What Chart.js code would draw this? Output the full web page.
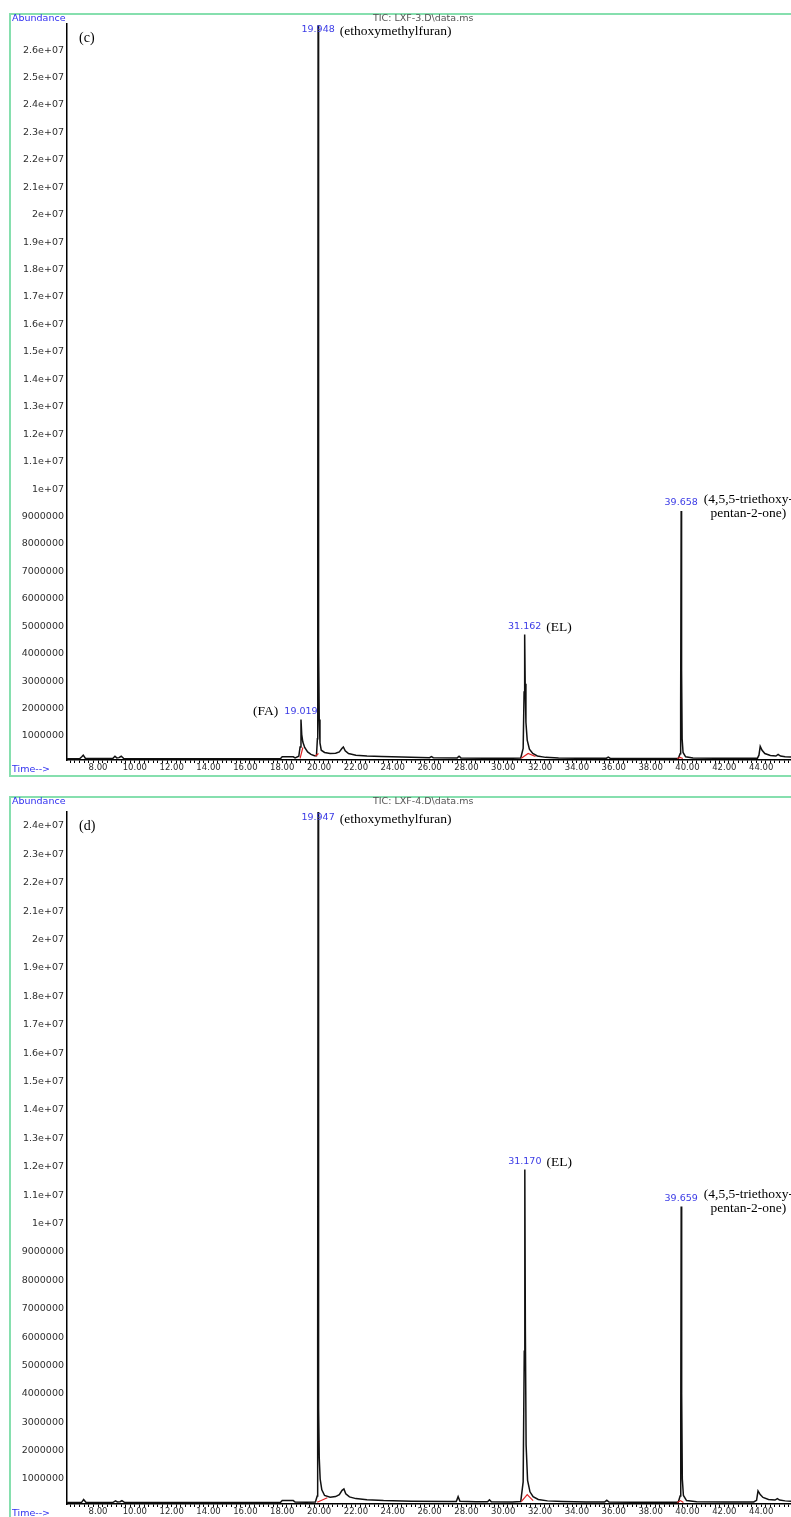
<!DOCTYPE html>
<html>
<head>
<meta charset="utf-8">
<script src="https://cdn.jsdelivr.net/npm/chart.js@4.4.1/dist/chart.umd.min.js"></script>
<style>
  html, body { margin: 0; padding: 0; background: #fff; width: 791px; height: 1517px; overflow: hidden; position: relative; }
  .frame { position: absolute; border: 2px solid #86dfae; box-sizing: border-box; }
  canvas { position: absolute; left: 0; }
</style>
</head>
<body>
<div class="frame" style="left:9px; top:13px; width:800px; height:764px;"></div>
<div class="frame" style="left:9px; top:796px; width:800px; height:760px;"></div>
<canvas id="chartC" width="791" height="780" style="top:0px;"></canvas>
<canvas id="chartD" width="791" height="727" style="top:790px;"></canvas>

<script>
// ---- Run LXF-3 (panel c): retention time (min) and abundance ----
const timesC = [6.32, 7.00, 7.12, 7.20, 7.32, 8.80, 8.92, 9.02, 9.14, 9.26, 9.40, 12.0, 15.0, 17.9, 18.0, 18.6, 18.7, 18.9, 18.97,
  19.019, 19.06, 19.12, 19.22, 19.38, 19.56, 19.75, 19.86, 19.91, 19.93, 19.948, 19.965, 19.985, 20.01, 20.05, 20.12, 20.3,
  20.6, 20.9, 21.1, 21.25, 21.32, 21.42, 21.6, 22.0, 22.6, 23.4, 24.5, 26.0, 26.1, 26.2, 27.5, 27.6, 27.7, 29.0, 30.5, 30.95,
  31.08, 31.13, 31.162, 31.19, 31.23, 31.3, 31.42, 31.6, 31.85, 32.3, 33.0, 34.0, 35.6, 35.7, 35.8, 37.0, 38.5, 39.5, 39.6,
  39.63, 39.658, 39.68, 39.71, 39.76, 39.9, 40.3, 41.5, 42.8, 43.8, 43.88, 43.95, 44.05, 44.2, 44.5, 44.8, 44.92, 45.05, 45.3, 45.62];
const abundC = [170000, 170000, 240000, 300000, 180000, 180000, 260000, 200000, 210000, 260000, 180000, 170000, 170000, 170000,
  240000, 240000, 200000, 260000, 600000,
  1600000, 1050000, 780000, 580000, 420000, 330000, 280000, 280000, 900000, 7500000, 26900000, 14000000, 4200000, 1600000,
  750000, 480000, 400000,
  360000, 370000, 420000, 550000, 600000, 460000, 360000, 300000, 270000, 250000, 230000, 210000, 250000, 210000, 200000,
  260000, 200000, 190000, 190000, 200000,
  550000, 2600000, 4700000, 2900000, 1500000, 850000, 520000, 360000, 270000, 220000, 200000, 190000, 190000, 230000, 190000,
  180000, 180000, 180000, 350000,
  2200000, 9200000, 3400000, 900000, 400000, 240000, 200000, 190000, 190000, 190000, 300000, 620000, 480000, 360000, 290000,
  270000, 330000, 270000, 240000, 230000];
// integration baselines (red), null breaks the line
const redTimesC = [18.97, 19.12, null, 19.80, 19.97, null, 30.98, 31.35, 31.75, null, 39.45, 39.60, 39.75];
const redAbundC = [180000, 580000, null, 270000, 360000, null, 190000, 360000, 250000, null, 180000, 220000, 180000];

// ---- Run LXF-4 (panel d) ----
const timesD = [6.32, 7.1, 7.22, 7.34, 8.8, 8.95, 9.05, 9.2, 9.3, 9.45, 12.0, 15.0, 17.9, 18.0, 18.6, 18.7, 19.3, 19.8, 19.9,
  19.925, 19.947, 19.965, 19.985, 20.01, 20.06, 20.15, 20.3, 20.6, 20.9, 21.1, 21.25, 21.35, 21.45, 21.65, 22.0, 22.6, 23.5,
  25.0, 27.0, 27.45, 27.55, 27.65, 28.5, 29.15, 29.25, 29.35, 30.5, 30.95, 31.08, 31.14, 31.170, 31.2, 31.24, 31.32, 31.45,
  31.62, 31.9, 32.4, 33.2, 34.5, 35.5, 35.62, 35.74, 37.0, 38.5, 39.5, 39.6, 39.635, 39.659, 39.685, 39.72, 39.78, 39.95,
  40.5, 42.0, 43.6, 43.75, 43.83, 43.95, 44.1, 44.4, 44.75, 44.88, 45.0, 45.3, 45.62];
const abundD = [170000, 170000, 280000, 180000, 170000, 230000, 190000, 200000, 240000, 170000, 170000, 170000, 170000,
  240000, 240000, 190000, 180000, 190000, 400000,
  6000000, 24600000, 11000000, 3500000, 1750000, 1000000, 620000, 420000, 360000, 380000, 450000, 600000, 650000, 480000,
  370000, 310000, 270000, 240000,
  220000, 210000, 210000, 380000, 220000, 200000, 200000, 270000, 200000, 190000, 210000, 900000, 5500000, 11900000,
  6200000, 2200000, 950000, 550000,
  380000, 280000, 230000, 210000, 190000, 190000, 250000, 190000, 180000, 180000, 180000, 400000, 3000000, 10600000,
  4000000, 1000000, 420000, 240000,
  200000, 190000, 190000, 250000, 580000, 450000, 350000, 280000, 260000, 310000, 260000, 230000, 220000];
const redTimesD = [19.90, 20.45, null, 30.98, 31.30, 31.62, null, 39.45, 39.62, 39.78];
const redAbundD = [180000, 340000, null, 200000, 450000, 240000, null, 170000, 240000, 170000];

// ---- axis ticks ----
const yTicksC = [1000000, 2000000, 3000000, 4000000, 5000000, 6000000, 7000000, 8000000, 9000000, 10000000,
  11000000, 12000000, 13000000, 14000000, 15000000, 16000000, 17000000, 18000000, 19000000, 20000000,
  21000000, 22000000, 23000000, 24000000, 25000000, 26000000];
const yTicksD = [1000000, 2000000, 3000000, 4000000, 5000000, 6000000, 7000000, 8000000, 9000000, 10000000,
  11000000, 12000000, 13000000, 14000000, 15000000, 16000000, 17000000, 18000000, 19000000, 20000000,
  21000000, 22000000, 23000000, 24000000];
const xLabelTimes = [8, 10, 12, 14, 16, 18, 20, 22, 24, 26, 28, 30, 32, 34, 36, 38, 40, 42, 44];
const xMinorStep = 0.25;

// ---- peak annotations ----
const peaksC = [
  { t: 19.019, name: ['(FA)'], side: 'left' },
  { t: 19.948, name: ['(ethoxymethylfuran)'], side: 'right' },
  { t: 31.162, name: ['(EL)'], side: 'right' },
  { t: 39.658, name: ['(4,5,5-triethoxy-', 'pentan-2-one)'], side: 'right' }
];
const peaksD = [
  { t: 19.947, name: ['(ethoxymethylfuran)'], side: 'right' },
  { t: 31.170, name: ['(EL)'], side: 'right' },
  { t: 39.659, name: ['(4,5,5-triethoxy-', 'pentan-2-one)'], side: 'right' }
];

function yTickLabel(v) {
  if (v >= 10000000) {
    const m = Math.round(v / 1000000) / 10;
    return m + 'e+07';
  }
  return String(Math.round(v));
}

function xTickLabel(v) {
  return xLabelTimes.some(t => Math.abs(t - v) < 1e-6) ? v.toFixed(2) : '';
}

const gcText = {
  id: 'gcText',
  afterDatasetsDraw(chart, args, opts) {
    const { ctx, chartArea } = chart;
    const x = chart.scales.x, y = chart.scales.y;
    ctx.save();
    ctx.textBaseline = 'middle';
    ctx.textAlign = 'left';
    ctx.font = '9.5px "DejaVu Sans"';
    ctx.fillStyle = '#3030f0';
    ctx.fillText('Abundance', 12, opts.abundY);
    ctx.fillText('Time-->', 12, opts.timeY);
    ctx.fillStyle = '#555';
    ctx.fillText(opts.title, 373, opts.abundY);
    ctx.font = '14px "Liberation Serif"';
    ctx.fillStyle = '#000';
    ctx.fillText(opts.letter, 79, chartArea.top + 14);

    const trace = chart.data.datasets[1].data;
    opts.peaks.forEach(p => {
      const pt = trace.find(d => d.x === p.t);
      const px = x.getPixelForValue(p.t);
      const py = Math.max(y.getPixelForValue(pt.y) - 8, chartArea.top + 6);
      const label = p.t.toFixed(3);
      ctx.font = '9.5px "DejaVu Sans"';
      const w = ctx.measureText(label).width;
      ctx.fillStyle = '#3b3be6';
      ctx.textAlign = 'center';
      ctx.fillText(label, px, py);
      ctx.font = '13.5px "Liberation Serif"';
      ctx.fillStyle = '#000';
      if (p.side === 'left') {
        ctx.textAlign = 'right';
        ctx.fillText(p.name[0], px - w / 2 - 6, py);
      } else if (p.name.length === 1) {
        ctx.textAlign = 'left';
        ctx.fillText(p.name[0], px + w / 2 + 5, py + 1);
      } else {
        const left = px + w / 2 + 6;
        const w1 = ctx.measureText(p.name[0]).width;
        ctx.textAlign = 'left';
        ctx.fillText(p.name[0], left, py - 4);
        ctx.textAlign = 'center';
        ctx.fillText(p.name[1], left + w1 / 2, py + 10);
      }
    });
    ctx.restore();
  }
};

function makeChart(id, times, values, redT, redV, cfg) {
  const trace = times.map((t, i) => ({ x: t, y: values[i] }));
  const red = redT.map((t, i) => ({ x: t, y: redV[i] }));
  return new Chart(document.getElementById(id), {
    type: 'line',
    data: {
      datasets: [
        { data: red, borderColor: '#e02424', borderWidth: 1.2, pointRadius: 0, spanGaps: false, tension: 0, order: 0 },
        { data: trace, borderColor: '#111', borderWidth: 1.5, pointRadius: 0, tension: 0, order: 1 }
      ]
    },
    options: {
      responsive: false,
      animation: false,
      devicePixelRatio: 1,
      events: [],
      layout: { padding: { top: cfg.padTop, bottom: cfg.padBottom, left: 0, right: 0 } },
      plugins: {
        legend: { display: false },
        tooltip: { enabled: false },
        gcText: { title: cfg.title, letter: cfg.letter, abundY: cfg.abundY, timeY: cfg.timeY, peaks: cfg.peaks }
      },
      scales: {
        x: {
          type: 'linear', min: 6.317, max: 45.62,
          afterFit: s => { s.height = cfg.xHeight; },
          afterBuildTicks: s => {
            const ticks = [];
            for (let t = 6.5; t <= 45.5 + 1e-9; t += xMinorStep) ticks.push({ value: t });
            s.ticks = ticks;
          },
          border: { display: true, color: '#000', width: 1.5 },
          grid: { drawOnChartArea: false, drawTicks: true, tickLength: 3, color: '#000', lineWidth: 1 },
          ticks: {
            autoSkip: false, maxRotation: 0, padding: 0,
            color: '#2a2a2a', font: { family: 'DejaVu Sans', size: 8.5 },
            callback: xTickLabel
          }
        },
        y: {
          type: 'linear', min: cfg.ymin, max: cfg.ymax,
          afterFit: s => { s.width = 67; },
          afterBuildTicks: s => { s.ticks = cfg.yTicks.map(v => ({ value: v })); },
          border: { display: true, color: '#000', width: 1.5 },
          grid: { drawOnChartArea: false, drawTicks: false },
          ticks: {
            autoSkip: false, padding: 3,
            color: '#2f2f2f', font: { family: 'DejaVu Sans', size: 9.5 },
            callback: yTickLabel
          }
        }
      }
    },
    plugins: [gcText]
  });
}

makeChart('chartC', timesC, abundC, redTimesC, redAbundC, {
  padTop: 24, padBottom: 6, xHeight: 14, ymin: 124000, ymax: 26950000, yTicks: yTicksC,
  title: 'TIC: LXF-3.D\\data.ms', letter: '(c)', abundY: 19, timeY: 770, peaks: peaksC
});
makeChart('chartD', timesD, abundD, redTimesD, redAbundD, {
  padTop: 22, padBottom: 0, xHeight: 13, ymin: 120000, ymax: 24490000, yTicks: yTicksD,
  title: 'TIC: LXF-4.D\\data.ms', letter: '(d)', abundY: 12, timeY: 724, peaks: peaksD
});
</script>
</body>
</html>
